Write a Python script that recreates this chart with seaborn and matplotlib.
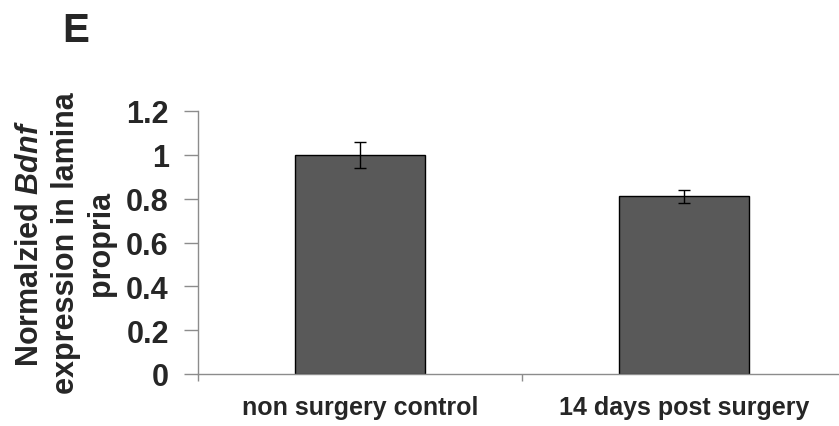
import numpy as np
import pandas as pd
import seaborn as sns
import matplotlib.pyplot as plt

# values
groups = ["non surgery control", "14 days post surgery"]
means = [1.0, 0.81]
errors = [0.06, 0.03]
yticks = [0, 0.2, 0.4, 0.6, 0.8, 1.0, 1.2]
ytick_labels = ["0", "0.2", "0.4", "0.6", "0.8", "1", "1.2"]

sns.set_style("white")
plt.rcParams['font.family'] = ['Liberation Sans', 'DejaVu Sans']
plt.rcParams['font.weight'] = 'bold'
plt.rcParams['mathtext.fontset'] = 'custom'
plt.rcParams['mathtext.it'] = 'Liberation Sans:italic:bold'
plt.rcParams['mathtext.rm'] = 'Liberation Sans:bold'

df = pd.DataFrame({"group": groups, "value": means})

fig = plt.figure(figsize=(8.39, 4.27), dpi=100)
ax = fig.add_axes([198 / 839, 52 / 427, 648 / 839, 263 / 427])

sns.barplot(data=df, x="group", y="value", color="#595959", saturation=1,
            width=0.4, edgecolor="black", linewidth=1.0, errorbar=None, ax=ax)
ax.errorbar(x=np.arange(len(groups)), y=means, yerr=errors, fmt="none",
            ecolor="black", elinewidth=1.0, capsize=4.5, capthick=1.0)

ax.set_xlim(-0.5, 1.5)
ax.set_ylim(0, 1.2)
ax.set_yticks(yticks)
ax.set_yticklabels(ytick_labels)
ax.set_xticks([-0.5, 0.5, 1.5], minor=False)
ax.set_xticklabels([])
ax.set_xticks([0, 1], minor=True)
ax.set_xticklabels(groups, minor=True)

for side in ["top", "right"]:
    ax.spines[side].set_visible(False)
for side in ["left", "bottom"]:
    ax.spines[side].set_color("#8c8c8c")
    ax.spines[side].set_linewidth(1.0)

ax.tick_params(axis="y", which="major", direction="out", length=10, width=1,
               color="#8c8c8c", labelsize=22, pad=11, left=True)
ax.tick_params(axis="x", which="major", direction="out", length=5, width=1,
               color="#8c8c8c", bottom=True)
ax.tick_params(axis="x", which="minor", length=0, labelsize=18, pad=15)
for lab in ax.get_yticklabels() + ax.get_xticklabels(minor=True):
    lab.set_fontweight("bold")

ax.set_xlabel("")
ax.set_ylabel("Normalzied $Bdnf$\nexpression in lamina\npropria",
              fontsize=22, fontweight="bold", linespacing=1.25)
ax.yaxis.set_label_coords(-0.126, 0.5)

fig.text(62 / 839, 1 - 42 / 427, "E", fontsize=29, fontweight="bold",
         ha="left", va="baseline")

fig.savefig("out.png", dpi=100)
